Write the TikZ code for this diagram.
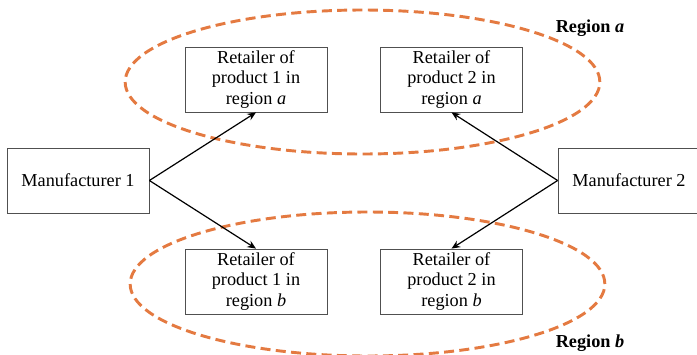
\documentclass[tikz,border=0pt]{standalone}
\usepackage{fontspec}
\setmainfont{Liberation Serif}
\usepackage{tikz}
\usetikzlibrary{arrows.meta, positioning, shapes.geometric}
\definecolor{regionorange}{HTML}{E47A41}
\definecolor{boxgrey}{HTML}{505050}

\begin{document}
\begin{tikzpicture}[x=0.75pt, y=-0.75pt,
    firmbox/.style={draw=boxgrey, line width=0.6pt, fill=white,
      minimum width=106.5pt, minimum height=48.75pt, inner sep=0pt,
      align=center, font=\fontsize{13.7}{15.1}\selectfont},
    regionline/.style={draw=regionorange, line width=2.2pt,
      dash pattern=on 7.5pt off 4pt},
    regionlabel/.style={font=\fontsize{13.7}{16}\selectfont\bfseries},
    supply/.style={-{Stealth[length=6.5pt, width=5.5pt]}, line width=0.9pt}]
  \useasboundingbox (0,0) rectangle (697,354);
  % dashed regions
  \draw[regionline] (362.5,82) ellipse [x radius=178pt, y radius=54pt];
  \draw[regionline] (367.5,284) ellipse [x radius=178pt, y radius=54pt];
  \node[regionlabel] (rega) at (590,28) {Region \textit{a}};
  \node[regionlabel] (regb) at (590,343) {Region \textit{b}};
  % retailers
  \node[firmbox] (r1a) at (256,79.5) {Retailer of\\product 1 in\\region \textit{a}};
  \node[firmbox] (r2a) at (451.5,79.5) {Retailer of\\product 2 in\\region \textit{a}};
  \node[firmbox] (r1b) at (256,281.5) {Retailer of\\product 1 in\\region \textit{b}};
  \node[firmbox] (r2b) at (451.5,281.5) {Retailer of\\product 2 in\\region \textit{b}};
  % manufacturers
  \node[firmbox] (m1) at (78,180.5) {Manufacturer 1};
  \node[firmbox] (m2) at (629,180.5) {Manufacturer 2};
  \draw[supply] (m1.east) -- (r1a.south);
  \draw[supply] (m1.east) -- (r1b.north);
  \draw[supply] (m2.west) -- (r2a.south);
  \draw[supply] (m2.west) -- (r2b.north);
\end{tikzpicture}
\end{document}
